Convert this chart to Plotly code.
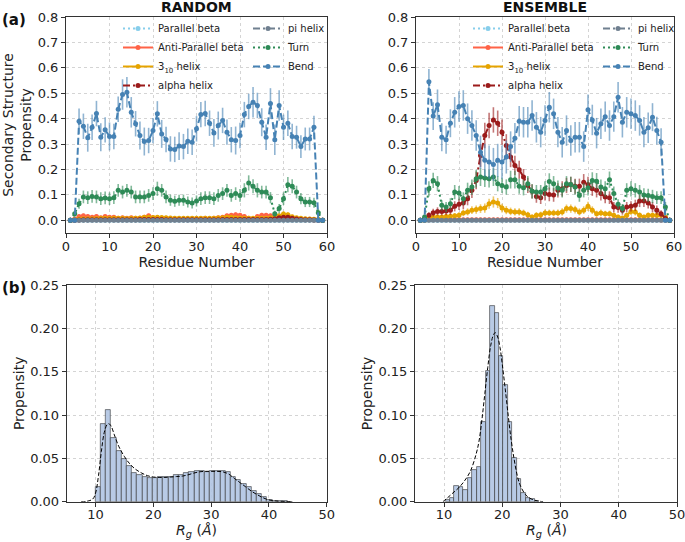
import plotly.graph_objects as go

# ---------------- data ----------------
residues = list(range(1, 60))

# RANDOM ensemble (secondary structure propensity per residue)
rand_parallel = [0.0]*10 + [0.0]*10 + [0.0]*10 + [0.0]*10 + [0.0]*10 + [0.0]*9
rand_pi = [0.0]*10 + [0.0]*10 + [0.0]*10 + [0.0]*10 + [0.0]*10 + [0.0]*9
rand_anti = [0.0, 0.005, 0.015, 0.018, 0.015, 0.012, 0.015, 0.01, 0.015, 0.012,
             0.012, 0.008, 0.01, 0.008, 0.01, 0.008, 0.008, 0.012, 0.018, 0.01,
             0.01, 0.008, 0.008, 0.006, 0.006, 0.005, 0.006, 0.005, 0.006, 0.006,
             0.006, 0.008, 0.006, 0.008, 0.01, 0.012, 0.018, 0.02, 0.022, 0.02,
             0.015, 0.008, 0.005, 0.015, 0.02, 0.02, 0.018, 0.01, 0.005, 0.005,
             0.005, 0.005, 0.005, 0.004, 0.004, 0.004, 0.003, 0.002, 0.0]
rand_anti_err = [0, 0.004, 0.008, 0.008, 0.008, 0.006, 0.008, 0.006, 0.008, 0.006,
                 0.006, 0.005, 0.006, 0.005, 0.006, 0.005, 0.005, 0.006, 0.008, 0.006,
                 0.006, 0.005, 0.005, 0.004, 0.004, 0.004, 0.004, 0.004, 0.004, 0.004,
                 0.004, 0.005, 0.004, 0.005, 0.006, 0.006, 0.008, 0.008, 0.009, 0.008,
                 0.008, 0.005, 0.004, 0.008, 0.009, 0.009, 0.008, 0.006, 0.004, 0.004,
                 0.004, 0.004, 0.004, 0.003, 0.003, 0.003, 0.003, 0.002, 0]
rand_h310 = [0.0, 0.002, 0.005, 0.006, 0.006, 0.006, 0.007, 0.008, 0.008, 0.008,
             0.008, 0.008, 0.008, 0.007, 0.008, 0.008, 0.009, 0.012, 0.012, 0.011,
             0.012, 0.011, 0.01, 0.009, 0.008, 0.008, 0.008, 0.008, 0.008, 0.008,
             0.008, 0.008, 0.008, 0.008, 0.009, 0.01, 0.012, 0.012, 0.01, 0.009,
             0.008, 0.008, 0.008, 0.008, 0.008, 0.008, 0.01, 0.012, 0.018, 0.025,
             0.022, 0.014, 0.01, 0.008, 0.006, 0.005, 0.004, 0.003, 0.0]
rand_h310_err = [0, 0.002, 0.004, 0.004, 0.004, 0.004, 0.005, 0.005, 0.005, 0.005,
                 0.005, 0.005, 0.005, 0.005, 0.005, 0.005, 0.005, 0.006, 0.006, 0.006,
                 0.006, 0.006, 0.005, 0.005, 0.005, 0.005, 0.005, 0.005, 0.005, 0.005,
                 0.005, 0.005, 0.005, 0.005, 0.005, 0.006, 0.006, 0.006, 0.006, 0.005,
                 0.005, 0.005, 0.005, 0.005, 0.005, 0.005, 0.006, 0.006, 0.008, 0.01,
                 0.01, 0.008, 0.006, 0.005, 0.004, 0.004, 0.003, 0.002, 0]
rand_alpha = [0.0, 0.0, 0.001, 0.002, 0.002, 0.002, 0.002, 0.002, 0.002, 0.002,
              0.002, 0.002, 0.002, 0.002, 0.002, 0.002, 0.003, 0.003, 0.003, 0.003,
              0.003, 0.003, 0.002, 0.002, 0.002, 0.002, 0.002, 0.002, 0.002, 0.002,
              0.002, 0.002, 0.002, 0.002, 0.002, 0.003, 0.003, 0.003, 0.003, 0.003,
              0.003, 0.003, 0.003, 0.003, 0.003, 0.003, 0.004, 0.006, 0.01, 0.012,
              0.012, 0.008, 0.005, 0.003, 0.002, 0.002, 0.001, 0.0, 0.0]
rand_alpha_err = [0, 0, 0.001, 0.002, 0.002, 0.002, 0.002, 0.002, 0.002, 0.002,
                  0.002, 0.002, 0.002, 0.002, 0.002, 0.002, 0.002, 0.002, 0.002, 0.002,
                  0.002, 0.002, 0.002, 0.002, 0.002, 0.002, 0.002, 0.002, 0.002, 0.002,
                  0.002, 0.002, 0.002, 0.002, 0.002, 0.002, 0.002, 0.002, 0.002, 0.002,
                  0.002, 0.002, 0.002, 0.002, 0.002, 0.002, 0.003, 0.004, 0.006, 0.007,
                  0.007, 0.005, 0.004, 0.002, 0.002, 0.002, 0.001, 0, 0]
rand_turn = [0.0, 0.026, 0.065, 0.092, 0.089, 0.094, 0.092, 0.085, 0.088, 0.085,
             0.089, 0.118, 0.111, 0.118, 0.111, 0.092, 0.092, 0.092, 0.098, 0.105,
             0.124, 0.118, 0.092, 0.079, 0.075, 0.079, 0.079, 0.072, 0.068, 0.076,
             0.085, 0.089, 0.089, 0.085, 0.098, 0.105, 0.118, 0.098, 0.105, 0.098,
             0.118, 0.147, 0.134, 0.118, 0.111, 0.111, 0.089, 0.026, 0.046, 0.085,
             0.14, 0.134, 0.111, 0.085, 0.072, 0.072, 0.069, 0.03, 0.0]
rand_turn_err = [0, 0.012, 0.02, 0.025, 0.025, 0.025, 0.025, 0.025, 0.025, 0.025,
                 0.025, 0.025, 0.025, 0.025, 0.025, 0.025, 0.025, 0.025, 0.025, 0.025,
                 0.028, 0.025, 0.025, 0.022, 0.022, 0.022, 0.022, 0.022, 0.022, 0.022,
                 0.025, 0.025, 0.025, 0.025, 0.025, 0.025, 0.025, 0.025, 0.025, 0.025,
                 0.028, 0.03, 0.028, 0.028, 0.025, 0.025, 0.022, 0.012, 0.018, 0.025,
                 0.03, 0.028, 0.025, 0.022, 0.02, 0.02, 0.02, 0.015, 0]
rand_bend = [0.0, 0.0, 0.39, 0.37, 0.325, 0.366, 0.42, 0.327, 0.356, 0.33,
             0.33, 0.437, 0.495, 0.504, 0.425, 0.38, 0.334, 0.31, 0.314, 0.353,
             0.419, 0.34, 0.318, 0.281, 0.279, 0.292, 0.29, 0.311, 0.307, 0.36,
             0.416, 0.42, 0.382, 0.344, 0.373, 0.393, 0.347, 0.317, 0.314, 0.334,
             0.416, 0.448, 0.465, 0.452, 0.386, 0.327, 0.46, 0.317, 0.452, 0.366,
             0.382, 0.33, 0.327, 0.29, 0.32, 0.32, 0.366, 0.0, 0.0]
rand_bend_err = [0, 0, 0.05, 0.05, 0.055, 0.05, 0.05, 0.055, 0.05, 0.055,
                 0.05, 0.05, 0.06, 0.06, 0.06, 0.05, 0.055, 0.055, 0.05, 0.05,
                 0.05, 0.055, 0.05, 0.05, 0.05, 0.055, 0.05, 0.05, 0.05, 0.05,
                 0.05, 0.05, 0.05, 0.055, 0.055, 0.05, 0.05, 0.05, 0.055, 0.05,
                 0.05, 0.05, 0.06, 0.05, 0.055, 0.05, 0.06, 0.06, 0.06, 0.05,
                 0.05, 0.05, 0.045, 0.045, 0.045, 0.045, 0.045, 0, 0]

# ENSEMBLE
ens_parallel = [0.0]*10 + [0.0]*10 + [0.0]*10 + [0.0]*10 + [0.0]*10 + [0.0]*9
ens_pi = [0.0]*10 + [0.0]*10 + [0.0]*10 + [0.0]*10 + [0.0]*10 + [0.0]*9
ens_anti = [0.0, 0.001, 0.002, 0.002, 0.003, 0.003, 0.003, 0.002, 0.002, 0.002,
            0.002, 0.002, 0.002, 0.002, 0.002, 0.002, 0.002, 0.002, 0.002, 0.002,
            0.002, 0.002, 0.002, 0.002, 0.002, 0.002, 0.002, 0.002, 0.002, 0.002,
            0.002, 0.002, 0.002, 0.002, 0.002, 0.002, 0.002, 0.002, 0.002, 0.002,
            0.002, 0.002, 0.002, 0.002, 0.002, 0.002, 0.002, 0.002, 0.002, 0.002,
            0.002, 0.002, 0.002, 0.002, 0.002, 0.002, 0.001, 0.001, 0.0]
ens_anti_err = [0, 0.001, 0.002, 0.002, 0.002, 0.002, 0.002, 0.002, 0.002, 0.002,
                0.002, 0.002, 0.002, 0.002, 0.002, 0.002, 0.002, 0.002, 0.002, 0.002,
                0.002, 0.002, 0.002, 0.002, 0.002, 0.002, 0.002, 0.002, 0.002, 0.002,
                0.002, 0.002, 0.002, 0.002, 0.002, 0.002, 0.002, 0.002, 0.002, 0.002,
                0.002, 0.002, 0.002, 0.002, 0.002, 0.002, 0.002, 0.002, 0.002, 0.002,
                0.002, 0.002, 0.002, 0.002, 0.002, 0.002, 0.001, 0.001, 0]
ens_h310 = [0.0, 0.0, 0.013, 0.013, 0.013, 0.013, 0.015, 0.016, 0.018, 0.02,
            0.029, 0.033, 0.04, 0.042, 0.046, 0.048, 0.065, 0.072, 0.068, 0.048,
            0.04, 0.035, 0.033, 0.033, 0.029, 0.022, 0.013, 0.02, 0.022, 0.029,
            0.029, 0.029, 0.029, 0.033, 0.046, 0.046, 0.042, 0.033, 0.04, 0.055,
            0.04, 0.026, 0.029, 0.026, 0.026, 0.02, 0.013, 0.009, 0.02, 0.035,
            0.033, 0.02, 0.013, 0.02, 0.02, 0.02, 0.02, 0.013, 0.0]
ens_h310_err = [0, 0, 0.008, 0.008, 0.008, 0.008, 0.009, 0.01, 0.01, 0.012,
                0.013, 0.014, 0.015, 0.016, 0.017, 0.018, 0.02, 0.022, 0.02, 0.017,
                0.016, 0.015, 0.014, 0.014, 0.013, 0.012, 0.01, 0.012, 0.012, 0.013,
                0.013, 0.013, 0.013, 0.014, 0.016, 0.016, 0.015, 0.014, 0.015, 0.018,
                0.015, 0.012, 0.013, 0.012, 0.012, 0.011, 0.009, 0.008, 0.011, 0.014,
                0.014, 0.011, 0.009, 0.011, 0.011, 0.011, 0.011, 0.008, 0]
ens_alpha = [0.0, 0.007, 0.02, 0.03, 0.035, 0.035, 0.037, 0.04, 0.055, 0.063,
             0.068, 0.085, 0.118, 0.157, 0.255, 0.334, 0.373, 0.395, 0.382, 0.347,
             0.294, 0.249, 0.216, 0.199, 0.17, 0.137, 0.114, 0.094, 0.089, 0.105,
             0.102, 0.10, 0.118, 0.124, 0.137, 0.141, 0.134, 0.134, 0.15, 0.141,
             0.124, 0.118, 0.105, 0.092, 0.089, 0.052, 0.05, 0.04, 0.052, 0.055,
             0.059, 0.076, 0.076, 0.068, 0.052, 0.04, 0.026, 0.007, 0.0]
ens_alpha_err = [0, 0.006, 0.012, 0.015, 0.016, 0.016, 0.017, 0.018, 0.02, 0.022,
                 0.024, 0.026, 0.03, 0.035, 0.045, 0.05, 0.05, 0.05, 0.05, 0.05,
                 0.045, 0.04, 0.038, 0.035, 0.032, 0.03, 0.028, 0.025, 0.025, 0.027,
                 0.027, 0.027, 0.028, 0.03, 0.03, 0.03, 0.03, 0.03, 0.032, 0.03,
                 0.028, 0.028, 0.027, 0.025, 0.025, 0.02, 0.02, 0.018, 0.02, 0.02,
                 0.022, 0.024, 0.024, 0.022, 0.02, 0.018, 0.014, 0.006, 0]
ens_turn = [0.0, 0.013, 0.124, 0.157, 0.144, 0.059, 0.052, 0.065, 0.111, 0.107,
            0.085, 0.118, 0.131, 0.164, 0.17, 0.166, 0.164, 0.17, 0.144, 0.137,
            0.131, 0.16, 0.16, 0.134, 0.128, 0.144, 0.114, 0.111, 0.111, 0.124,
            0.153, 0.144, 0.127, 0.118, 0.144, 0.141, 0.131, 0.098, 0.118, 0.128,
            0.157, 0.154, 0.131, 0.124, 0.16, 0.105, 0.063, 0.046, 0.118, 0.124,
            0.118, 0.111, 0.10, 0.098, 0.094, 0.089, 0.089, 0.052, 0.0]
ens_turn_err = [0, 0.01, 0.03, 0.03, 0.03, 0.02, 0.02, 0.022, 0.028, 0.028,
                0.025, 0.03, 0.03, 0.035, 0.035, 0.035, 0.035, 0.035, 0.03, 0.03,
                0.03, 0.035, 0.035, 0.03, 0.03, 0.03, 0.028, 0.028, 0.028, 0.03,
                0.032, 0.03, 0.03, 0.028, 0.03, 0.03, 0.03, 0.025, 0.028, 0.03,
                0.032, 0.032, 0.03, 0.03, 0.032, 0.028, 0.02, 0.018, 0.028, 0.03,
                0.028, 0.028, 0.026, 0.026, 0.026, 0.025, 0.025, 0.02, 0]
ens_bend = [0.0, 0.0, 0.545, 0.41, 0.455, 0.327, 0.317, 0.382, 0.425, 0.448,
            0.452, 0.40, 0.373, 0.334, 0.268, 0.236, 0.229, 0.22, 0.236, 0.229,
            0.249, 0.29, 0.323, 0.39, 0.386, 0.386, 0.412, 0.366, 0.347, 0.393,
            0.445, 0.419, 0.347, 0.307, 0.353, 0.314, 0.327, 0.327, 0.29, 0.435,
            0.395, 0.343, 0.38, 0.408, 0.373, 0.408, 0.484, 0.386, 0.425, 0.419,
            0.412, 0.393, 0.347, 0.364, 0.406, 0.353, 0.307, 0.0, 0.0]
ens_bend_err = [0, 0, 0.05, 0.055, 0.06, 0.055, 0.055, 0.055, 0.06, 0.06,
                0.06, 0.06, 0.06, 0.06, 0.065, 0.065, 0.065, 0.065, 0.065, 0.065,
                0.065, 0.06, 0.06, 0.06, 0.06, 0.06, 0.06, 0.06, 0.06, 0.06,
                0.06, 0.06, 0.06, 0.06, 0.06, 0.06, 0.06, 0.06, 0.06, 0.06,
                0.06, 0.06, 0.06, 0.06, 0.06, 0.06, 0.06, 0.06, 0.06, 0.06,
                0.06, 0.06, 0.06, 0.06, 0.055, 0.055, 0.055, 0, 0]

# Rg histograms (bin start, bin width, heights) and KDE curves
rand_bin_start = 10.0
rand_bin_width = 0.9
rand_hist = [0.0165, 0.0896, 0.1058, 0.074, 0.058, 0.049, 0.041, 0.0335, 0.031, 0.029,
             0.0277, 0.0277, 0.028, 0.029, 0.029, 0.031, 0.031, 0.0327, 0.0346, 0.035,
             0.0354, 0.0338, 0.0354, 0.0354, 0.0354, 0.0346, 0.0288, 0.025, 0.0204, 0.0165,
             0.0123, 0.0088, 0.005, 0.002, 0.001, 0.0005, 0.0003, 0.0002]
rand_kde_x = [7.5, 8.5, 9.5, 10.0, 10.5, 11.0, 11.5, 12.0, 12.3, 12.7, 13.2, 14.0, 15.0,
              16.0, 17.0, 18.0, 19.0, 20.0, 21.0, 22.0, 23.0, 24.0, 25.0, 26.0, 27.0,
              28.0, 29.0, 30.0, 31.0, 32.0, 33.0, 34.0, 35.0, 36.0, 37.0, 38.0, 39.0,
              40.0, 41.0, 42.0, 44.0]
rand_kde_y = [0.0, 0.0005, 0.003, 0.01, 0.03, 0.058, 0.08, 0.089, 0.09, 0.087, 0.078,
              0.064, 0.052, 0.043, 0.037, 0.033, 0.03, 0.0285, 0.028, 0.028, 0.0285,
              0.029, 0.0295, 0.031, 0.033, 0.0345, 0.035, 0.035, 0.035, 0.0345, 0.032,
              0.027, 0.022, 0.017, 0.012, 0.008, 0.0045, 0.002, 0.001, 0.0004, 0.0]

ens_bin_start = 10.25
ens_bin_width = 0.765
ens_hist = [0.002, 0.004, 0.0185, 0.0165, 0.0135, 0.027, 0.037, 0.0396, 0.092, 0.151,
            0.2258, 0.2173, 0.168, 0.1346, 0.092, 0.05, 0.0258, 0.0104, 0.004, 0.003, 0.001]
ens_kde_x = [9.8, 10.5, 11.5, 12.5, 13.5, 14.5, 15.5, 16.0, 16.5, 17.0, 17.5, 18.0,
             18.5, 18.8, 19.2, 19.6, 20.0, 20.5, 21.0, 21.5, 22.0, 22.5, 23.0, 24.0,
             25.0, 26.0, 27.0]
ens_kde_y = [0.0, 0.004, 0.01, 0.016, 0.024, 0.035, 0.055, 0.07, 0.095, 0.125, 0.155,
             0.18, 0.193, 0.195, 0.19, 0.178, 0.158, 0.13, 0.1, 0.072, 0.05, 0.032,
             0.02, 0.008, 0.003, 0.001, 0.0]

# ---------------- figure ----------------
W, H = 685, 542
FONT = "DejaVu Sans"


def fx(p):
    return p / W


def fy(p):
    return 1 - p / H


def rgba(hexc, a):
    hexc = hexc.lstrip("#")
    r, g, b = int(hexc[0:2], 16), int(hexc[2:4], 16), int(hexc[4:6], 16)
    return f"rgba({r},{g},{b},{a})"


styles = [
    # name, color, dash, legend column (1/2), rand data, rand err, ens data, ens err
    ("Parallel beta", "#87CEEB", "2px,3px", 1, rand_parallel, None, ens_parallel, None),
    ("Anti-Parallel beta", "#FF6347", "solid", 1, rand_anti, rand_anti_err, ens_anti, ens_anti_err),
    ("3<sub>10</sub> helix", "#E6A400", "solid", 1, rand_h310, rand_h310_err, ens_h310, ens_h310_err),
    ("alpha helix", "#9B1B1B", "7px,3px,2px,3px", 1, rand_alpha, rand_alpha_err, ens_alpha, ens_alpha_err),
    ("pi helix", "#708090", "7px,3px,2px,3px", 2, rand_pi, None, ens_pi, None),
    ("Turn", "#2E8B57", "2px,3px", 2, rand_turn, rand_turn_err, ens_turn, ens_turn_err),
    ("Bend", "#4682B4", "7px,3px", 2, rand_bend, rand_bend_err, ens_bend, ens_bend_err),
]

fig = go.Figure()

for (name, color, dash, col, rv, re, ev, ee) in styles:
    for panel, vals, errs in ((0, rv, re), (1, ev, ee)):
        xa = "x" if panel == 0 else "x2"
        ya = "y" if panel == 0 else "y2"
        leg = ["legend", "legend2", "legend3", "legend4"][panel * 2 + (col - 1)]
        kw = {}
        if errs is not None:
            kw["error_y"] = dict(type="data", array=errs, visible=True,
                                 color=rgba(color, 0.6), thickness=1.6, width=0)
        fig.add_trace(go.Scatter(
            x=residues, y=vals, name=name, mode="lines+markers",
            line=dict(color=color, width=2, dash=dash),
            marker=dict(color=color, size=5),
            xaxis=xa, yaxis=ya, legend=leg, **kw))

# histograms
for panel, start, bw, hist, kx, ky in ((2, rand_bin_start, rand_bin_width, rand_hist, rand_kde_x, rand_kde_y),
                                        (3, ens_bin_start, ens_bin_width, ens_hist, ens_kde_x, ens_kde_y)):
    xa = "x3" if panel == 2 else "x4"
    ya = "y3" if panel == 2 else "y4"
    centers = [start + bw * (i + 0.5) for i in range(len(hist))]
    fig.add_trace(go.Bar(x=centers, y=hist, width=bw, xaxis=xa, yaxis=ya, showlegend=False,
                         marker=dict(color="rgba(176,196,226,0.9)",
                                     line=dict(color="rgba(50,50,50,0.75)", width=0.8))))
    fig.add_trace(go.Scatter(x=kx, y=ky, mode="lines", xaxis=xa, yaxis=ya, showlegend=False,
                             line=dict(color="black", width=1, dash="4px,2px", shape="spline")))

axis_common = dict(showline=True, linecolor="#333333", linewidth=1, mirror=True,
                   ticks="outside", ticklen=4, tickcolor="#333333",
                   showgrid=True, gridcolor="#d4d4d4", griddash="dot", gridwidth=1,
                   zeroline=False, automargin=False, ticklabeloverflow="allow",
                   tickfont=dict(family=FONT, size=13, color="#222222"),
                   title_font=dict(family=FONT, size=14, color="#222222"))
xaxis_common = dict(axis_common, ticklabelstandoff=-3)

top_y = [fy(233), fy(17)]
bot_y = [fy(501.7), fy(285)]

fig.update_layout(
    width=W, height=H, margin=dict(l=0, r=0, t=0, b=0, autoexpand=False),
    paper_bgcolor="white", plot_bgcolor="white",
    font=dict(family=FONT, color="#222222"),
    bargap=0,
    xaxis=dict(xaxis_common, domain=[fx(66), fx(327)], anchor="y", range=[0, 60],
               tickvals=[0, 10, 20, 30, 40, 50, 60],
               title=dict(text="Residue Number", standoff=4)),
    yaxis=dict(axis_common, domain=top_y, anchor="x", range=[-0.05, 0.8001],
               tickvals=[0, 0.1, 0.2, 0.3, 0.4, 0.5, 0.6, 0.7, 0.8], tickformat=".1f",
               title=dict(text="Secondary Structure<br>Propensity", standoff=2)),
    xaxis2=dict(xaxis_common, domain=[fx(416), fx(674)], anchor="y2", range=[0, 60],
                tickvals=[0, 10, 20, 30, 40, 50, 60],
                title=dict(text="Residue Number", standoff=4)),
    yaxis2=dict(axis_common, domain=top_y, anchor="x2", range=[-0.05, 0.8001],
                tickvals=[0, 0.1, 0.2, 0.3, 0.4, 0.5, 0.6, 0.7, 0.8], tickformat=".1f"),
    xaxis3=dict(xaxis_common, domain=[fx(66.7), fx(326.7)], anchor="y3", range=[5, 50],
                tickvals=[10, 20, 30, 40, 50]),
    yaxis3=dict(axis_common, domain=bot_y, anchor="x3", range=[0, 0.25],
                tickvals=[0, 0.05, 0.1, 0.15, 0.2, 0.25], tickformat=".2f",
                title=dict(text="Propensity", standoff=2)),
    xaxis4=dict(xaxis_common, domain=[fx(415), fx(677)], anchor="y4", range=[5, 50],
                tickvals=[10, 20, 30, 40, 50]),
    yaxis4=dict(axis_common, domain=bot_y, anchor="x4", range=[0, 0.25],
                tickvals=[0, 0.05, 0.1, 0.15, 0.2, 0.25], tickformat=".2f",
                title=dict(text="Propensity", standoff=2)),
)

leg_common = dict(xanchor="left", yanchor="top", bgcolor="rgba(0,0,0,0)",
                  font=dict(family=FONT, size=10, color="#222222"),
                  tracegroupgap=0, itemwidth=30)
fig.update_layout(
    legend=dict(leg_common, x=fx(118), y=fy(14)),
    legend2=dict(leg_common, x=fx(248), y=fy(14)),
    legend3=dict(leg_common, x=fx(468), y=fy(14)),
    legend4=dict(leg_common, x=fx(598), y=fy(14)),
)

rg_title = "<i>R</i><sub><i>g</i></sub> (<i>Å</i>)"
annotations = [
    dict(text="<b>RANDOM</b>", x=fx(196.5), y=fy(17), xref="paper", yref="paper",
         xanchor="center", yanchor="bottom", showarrow=False,
         font=dict(family=FONT, size=14, color="#111111")),
    dict(text="<b>ENSEMBLE</b>", x=fx(545), y=fy(17), xref="paper", yref="paper",
         xanchor="center", yanchor="bottom", showarrow=False,
         font=dict(family=FONT, size=14, color="#111111")),
    dict(text="<b>(a)</b>", x=0, y=fy(20), xref="paper", yref="paper",
         xanchor="left", yanchor="middle", showarrow=False,
         font=dict(family=FONT, size=15, color="#111111")),
    dict(text="<b>(b)</b>", x=0, y=fy(288), xref="paper", yref="paper",
         xanchor="left", yanchor="middle", showarrow=False,
         font=dict(family=FONT, size=15, color="#111111")),
    dict(text=rg_title, x=fx(196.7), y=fy(531), xref="paper", yref="paper",
         xanchor="center", yanchor="middle", showarrow=False,
         font=dict(family=FONT, size=14, color="#222222")),
    dict(text=rg_title, x=fx(546), y=fy(531), xref="paper", yref="paper",
         xanchor="center", yanchor="middle", showarrow=False,
         font=dict(family=FONT, size=14, color="#222222")),
]
fig.update_layout(annotations=annotations)

fig.write_html("out.html", config={"displayModeBar": False},
               post_script="document.body.style.margin='0';document.body.style.padding='0';")
